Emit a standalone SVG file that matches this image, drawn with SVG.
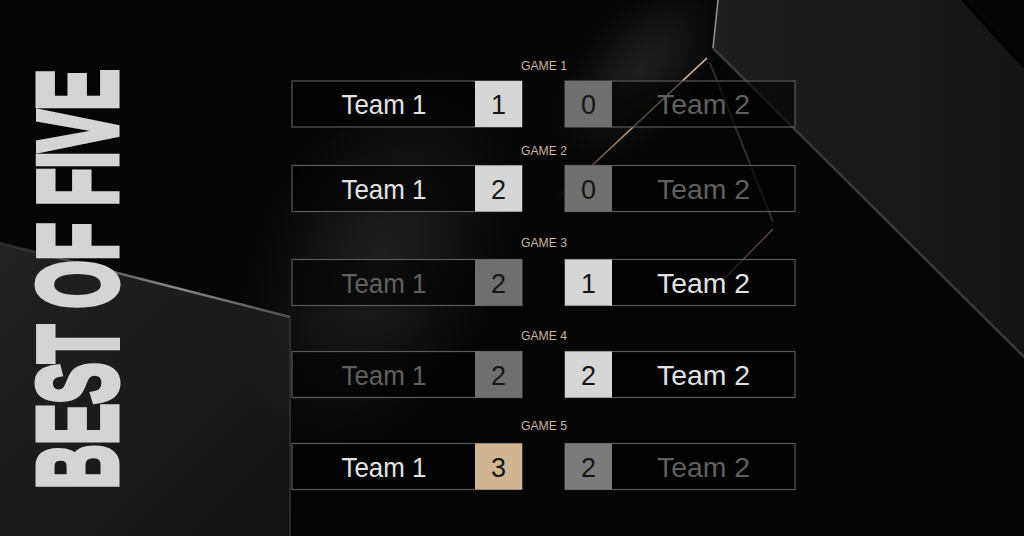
<svg xmlns="http://www.w3.org/2000/svg" width="1024" height="536" viewBox="0 0 1024 536">
<defs>
<style>
.box{fill:#000;fill-opacity:.55;stroke:#5a5a5a;stroke-width:1.2}
.team{font-family:"Liberation Sans",Arial,sans-serif;font-size:28px;text-anchor:middle}
.tw{fill:#e2e2e2}
.tl{fill:#606060}
.sw{fill:#d6d6d6}
.sl{fill:#6f6f6f}
.sg{fill:#d1b492}
.num{font-family:"Liberation Sans",Arial,sans-serif;font-size:27px;text-anchor:middle;fill:#161616}
.lbl{font-family:"Liberation Sans",Arial,sans-serif;font-size:13px;text-anchor:middle;fill:#c9b49c}
</style>
<linearGradient id="gLL" x1="0" y1="0" x2="1" y2="1">
<stop offset="0" stop-color="#222"/>
<stop offset="1" stop-color="#121212"/>
</linearGradient>
<linearGradient id="gUR" x1="0" y1="0" x2="1" y2="0">
<stop offset="0" stop-color="#1e1e1e"/>
<stop offset="1" stop-color="#141414"/>
</linearGradient>
<linearGradient id="gCu" x1="0" y1="1" x2="1" y2="0">
<stop offset="0" stop-color="#b08a72" stop-opacity="0"/>
<stop offset="0.5" stop-color="#c7a08a"/>
<stop offset="1" stop-color="#e0c2b0"/>
</linearGradient>
<linearGradient id="gEdge" x1="0" y1="0" x2="1" y2="0">
<stop offset="0" stop-color="#777" stop-opacity="0.2"/>
<stop offset="0.6" stop-color="#888"/>
<stop offset="1" stop-color="#555"/>
</linearGradient>
<radialGradient id="gGlow" cx="0.5" cy="0.5" r="0.5">
<stop offset="0" stop-color="#3a3a3a" stop-opacity="0.5"/>
<stop offset="1" stop-color="#3a3a3a" stop-opacity="0"/>
</radialGradient>
</defs>

<g id="background">
<rect width="1024" height="536" fill="#050505"/>
<polygon points="0,243 290,318 290,536 0,536" fill="url(#gLL)"/>
<line x1="0" y1="243" x2="290" y2="317" stroke="url(#gEdge)" stroke-width="2.5"/>
<line x1="290" y1="318" x2="290" y2="536" stroke="#2a2a2a" stroke-width="2"/>
<polygon points="718,0 963,0 1024,67 1024,357 713,48" fill="url(#gUR)"/>
<line x1="713" y1="48" x2="1024" y2="357" stroke="#3a3a3a" stroke-width="2.5"/>
<line x1="713" y1="48" x2="718" y2="0" stroke="#9a9a9a" stroke-width="1.5"/>
<line x1="963" y1="0" x2="1024" y2="67" stroke="#000" stroke-width="3"/>
<ellipse cx="380" cy="260" rx="120" ry="200" fill="url(#gGlow)" transform="rotate(25 380 260)"/>
<ellipse cx="640" cy="70" rx="60" ry="110" fill="url(#gGlow)" transform="rotate(40 640 70)"/>
<line x1="555" y1="200" x2="707" y2="58" stroke="url(#gCu)" stroke-width="1.6"/>
<line x1="710" y1="63" x2="773" y2="222" stroke="#2e2e2e" stroke-width="2"/>
<line x1="773" y1="229" x2="723" y2="280" stroke="#8a6e60" stroke-width="1.3" stroke-opacity="0.7"/>
</g>

<g id="title">
<text transform="translate(115.5,489) rotate(-90) scale(0.548,1)" x="0" y="0" font-family="Liberation Sans, Arial, sans-serif" font-weight="bold" font-size="112" fill="#d4d4d4" stroke="#d4d4d4" stroke-width="7" stroke-linejoin="miter">BEST OF FIVE</text>
</g>

<g id="game1">
<text class="lbl" x="544" y="70" textLength="46" lengthAdjust="spacingAndGlyphs">GAME 1</text>
<rect class="box" x="292" y="81" width="230" height="46"/>
<rect class="sw" x="475" y="81" width="47" height="46"/>
<text class="team tw" x="384" y="114" textLength="85" lengthAdjust="spacingAndGlyphs">Team 1</text>
<text class="num" x="498.5" y="114">1</text>
<rect class="box" x="565" y="81" width="230" height="46"/>
<rect class="sl" x="565" y="81" width="47" height="46"/>
<text class="num" x="588.5" y="114">0</text>
<text class="team tl" x="703.5" y="114" textLength="93" lengthAdjust="spacingAndGlyphs">Team 2</text>
</g>

<g id="game2">
<text class="lbl" x="544" y="155" textLength="46" lengthAdjust="spacingAndGlyphs">GAME 2</text>
<rect class="box" x="292" y="165.5" width="230" height="46"/>
<rect class="sw" x="475" y="165.5" width="47" height="46"/>
<text class="team tw" x="384" y="198.5" textLength="85" lengthAdjust="spacingAndGlyphs">Team 1</text>
<text class="num" x="498.5" y="198.5">2</text>
<rect class="box" x="565" y="165.5" width="230" height="46"/>
<rect class="sl" x="565" y="165.5" width="47" height="46"/>
<text class="num" x="588.5" y="198.5">0</text>
<text class="team tl" x="703.5" y="198.5" textLength="93" lengthAdjust="spacingAndGlyphs">Team 2</text>
</g>

<g id="game3">
<text class="lbl" x="544" y="247" textLength="46" lengthAdjust="spacingAndGlyphs">GAME 3</text>
<rect class="box" x="292" y="259.5" width="230" height="46"/>
<rect class="sl" x="475" y="259.5" width="47" height="46"/>
<text class="team tl" x="384" y="292.5" textLength="85" lengthAdjust="spacingAndGlyphs">Team 1</text>
<text class="num" x="498.5" y="292.5">2</text>
<rect class="box" x="565" y="259.5" width="230" height="46"/>
<rect class="sw" x="565" y="259.5" width="47" height="46"/>
<text class="num" x="588.5" y="292.5">1</text>
<text class="team tw" x="703.5" y="292.5" textLength="93" lengthAdjust="spacingAndGlyphs">Team 2</text>
</g>

<g id="game4">
<text class="lbl" x="544" y="340" textLength="46" lengthAdjust="spacingAndGlyphs">GAME 4</text>
<rect class="box" x="292" y="351.5" width="230" height="46"/>
<rect class="sl" x="475" y="351.5" width="47" height="46"/>
<text class="team tl" x="384" y="384.5" textLength="85" lengthAdjust="spacingAndGlyphs">Team 1</text>
<text class="num" x="498.5" y="384.5">2</text>
<rect class="box" x="565" y="351.5" width="230" height="46"/>
<rect class="sw" x="565" y="351.5" width="47" height="46"/>
<text class="num" x="588.5" y="384.5">2</text>
<text class="team tw" x="703.5" y="384.5" textLength="93" lengthAdjust="spacingAndGlyphs">Team 2</text>
</g>

<g id="game5">
<text class="lbl" x="544" y="430" textLength="46" lengthAdjust="spacingAndGlyphs">GAME 5</text>
<rect class="box" x="292" y="443.5" width="230" height="46"/>
<rect class="sg" x="475" y="443.5" width="47" height="46"/>
<text class="team tw" x="384" y="476.5" textLength="85" lengthAdjust="spacingAndGlyphs">Team 1</text>
<text class="num" x="498.5" y="476.5">3</text>
<rect class="box" x="565" y="443.5" width="230" height="46"/>
<rect class="sl" x="565" y="443.5" width="47" height="46" style="fill:#7b7b7b"/>
<text class="num" x="588.5" y="476.5">2</text>
<text class="team tl" x="703.5" y="476.5" textLength="93" lengthAdjust="spacingAndGlyphs">Team 2</text>
</g>
</svg>
